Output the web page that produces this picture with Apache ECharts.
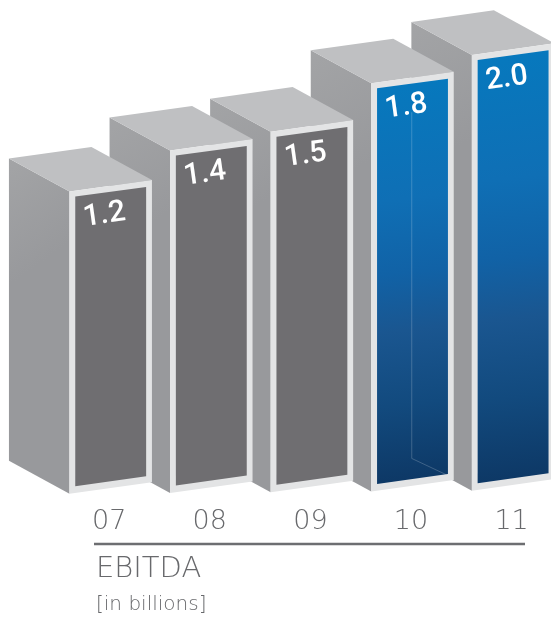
<!DOCTYPE html>
<html>
<head>
<meta charset="utf-8">
<style>html,body{margin:0;padding:0;background:#fff}#chart{width:551px;height:621px}</style>
<script src="https://cdn.jsdelivr.net/npm/echarts@6/dist/echarts.min.js"></script>
</head>
<body>
<div id="chart"></div>
<script>
// EBITDA by year, in billions
const years = ['07', '08', '09', '10', '11'];
const ebitda = [1.2, 1.4, 1.5, 1.8, 2.0];
const highlightedYears = ['10', '11'];
const yearsWithInnerEdge = ['10'];
const scaleFloor = 0.378;
const scaleCeil = 2;

const FONT = '"DejaVu Sans ExtraLight", "DejaVu Sans"';
const VALUE_FONT = 'Roboto';
const TEXT_GREY = '#68696c';

// Box projection, in pixels
const SLOPE = 0.14;
const DEPTH_X = -60.5;
const DEPTH_Y = -33;
const FRAME = 5.8;
const GROUND_DRIFT = 0.75;

const greyFace = '#6f6e71';
const blueFace = {
  type: 'linear', x: 0, y: 0, x2: 0.7, y2: 1,
  colorStops: [
    { offset: 0, color: '#0679be' },
    { offset: 0.3, color: '#0f6fb5' },
    { offset: 0.48, color: '#1162a6' },
    { offset: 0.62, color: '#1a5690' },
    { offset: 0.8, color: '#124a7e' },
    { offset: 1, color: '#0d3764' }
  ]
};
const sideFace = {
  type: 'linear', x: 0, y: 0, x2: 1, y2: 0.25,
  colorStops: [{ offset: 0, color: '#a3a4a6' }, { offset: 1, color: '#98999c' }]
};

function drawBox(params, api) {
  const i = api.value(0);
  const value = api.value(1);
  const drift = (2 - i) * GROUND_DRIFT;
  const top = api.coord([i, value]);
  const base = api.coord([i, scaleFloor]);
  const w = api.size([1, 0])[0] * 0.82;
  const xL = top[0] - w / 2;
  const xR = xL + w;
  const yT = top[1] + drift;
  const yB = base[1] + drift;
  const rise = w * SLOPE;
  const z2 = 10 - i;
  const poly = (points, fill) => ({
    type: 'polygon', z2, shape: { points }, style: { fill, stroke: null }
  });
  const year = years[i];
  const children = [
    poly([[xL, yT], [xL + DEPTH_X, yT + DEPTH_Y], [xL + DEPTH_X, yB + DEPTH_Y], [xL, yB]], sideFace),
    poly([[xL, yT], [xL + DEPTH_X, yT + DEPTH_Y], [xR + DEPTH_X, yT - rise + DEPTH_Y], [xR, yT - rise]], '#bfc0c2'),
    poly([[xL, yT], [xR, yT - rise], [xR, yB - rise], [xL, yB]], '#e3e4e5'),
    poly([
      [xL + FRAME, yT + 5],
      [xR - FRAME, yT - rise + 7],
      [xR - FRAME, yB - rise - 6],
      [xL + FRAME, yB - 7.5]
    ], highlightedYears.includes(year) ? blueFace : greyFace)
  ];
  if (yearsWithInnerEdge.includes(year)) {
    const ex = xL + 40.5;
    const ey = yB - 33;
    children.push({
      type: 'polyline', z2: z2 + 1,
      shape: { points: [[ex, yT + 29], [ex, ey], [ex + 34, ey + 16]] },
      style: { fill: null, stroke: 'rgba(255,255,255,0.2)', lineWidth: 1 }
    });
  }
  children.push({
    type: 'text', z2: z2 + 2,
    x: xL + 35, y: yT + 24, rotation: SLOPE,
    style: {
      text: value.toFixed(1), fill: '#ffffff',
      font: '500 30px ' + VALUE_FONT, align: 'center', verticalAlign: 'middle'
    }
  });
  return { type: 'group', children };
}

const chart = echarts.init(document.getElementById('chart'), null, { renderer: 'canvas' });
chart.setOption({
  animation: false,
  backgroundColor: '#ffffff',
  grid: { left: 60.4, width: 503, top: 56.4, height: 435.8, outerBoundsMode: 'none', containLabel: false },
  xAxis: {
    type: 'category',
    data: years,
    axisLine: { show: false },
    axisTick: { show: false },
    axisLabel: {
      color: TEXT_GREY, fontFamily: FONT, fontWeight: 200, fontSize: 27,
      margin: 16, padding: [0, 3, 0, 0]
    }
  },
  yAxis: { type: 'log', min: scaleFloor, max: scaleCeil, show: false },
  series: [{
    type: 'custom',
    renderItem: drawBox,
    encode: { x: 0, y: 1 },
    data: ebitda.map((v, i) => [i, v]),
    clip: false
  }],
  graphic: [
    { type: 'line', shape: { x1: 94, y1: 544, x2: 525, y2: 544 }, style: { stroke: '#6d6e71', lineWidth: 2.5 } },
    { type: 'text', x: 96, y: 569, style: { text: 'EBITDA', fill: TEXT_GREY, font: '200 29px ' + FONT, verticalAlign: 'middle' } },
    { type: 'text', x: 96, y: 605, style: { text: '[in billions]', fill: TEXT_GREY, font: '200 20px ' + FONT, verticalAlign: 'middle' } }
  ]
});
</script>
</body>
</html>
